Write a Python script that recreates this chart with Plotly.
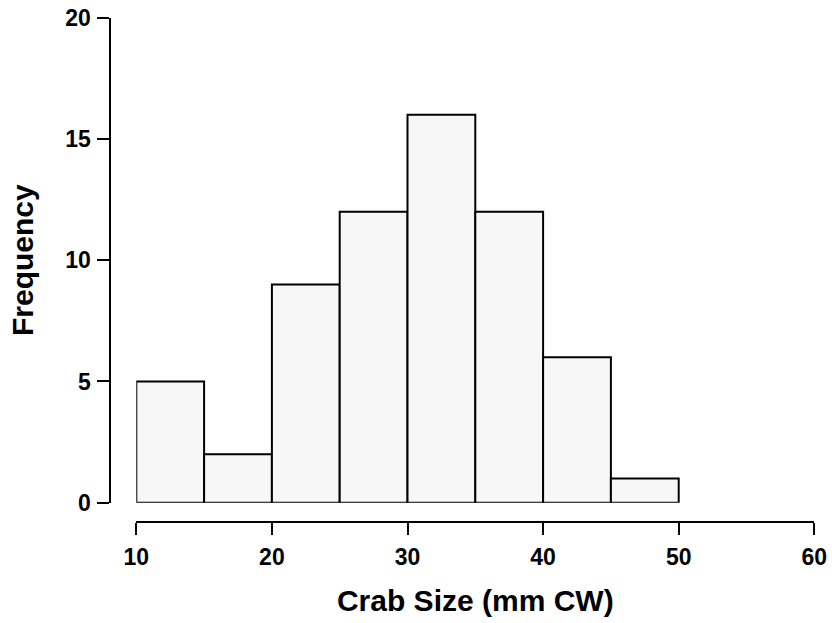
import plotly.graph_objects as go

bin_edges = [10, 15, 20, 25, 30, 35, 40, 45, 50]
counts = [5, 2, 9, 12, 16, 12, 6, 1]
x_ticks = [10, 20, 30, 40, 50, 60]
y_ticks = [0, 5, 10, 15, 20]

centers = [(a + b) / 2 for a, b in zip(bin_edges[:-1], bin_edges[1:])]
widths = [b - a for a, b in zip(bin_edges[:-1], bin_edges[1:])]

W, H = 832, 623
FONT = "Liberation Sans, Arial, sans-serif"


def px_x(p):
    return p / W


def px_y(p):
    return (H - p) / H


fig = go.Figure(go.Bar(
    x=centers, y=counts, width=widths,
    marker=dict(color="#F7F7F7", line=dict(color="black", width=2)),
    hoverinfo="x+y",
))

fig.update_layout(
    width=W, height=H,
    margin=dict(l=0, r=0, t=0, b=0, autoexpand=False),
    paper_bgcolor="white", plot_bgcolor="white",
    showlegend=False,
    font=dict(family=FONT, color="black"),
    xaxis=dict(
        domain=[px_x(136.3), px_x(814.3)], range=[10, 60],
        anchor="free", position=px_y(522), automargin=False,
        showline=True, linecolor="black", linewidth=2,
        ticks="outside", ticklen=12, tickwidth=2, tickcolor="black",
        tickvals=x_ticks, showgrid=False, zeroline=False,
        tickfont=dict(family=FONT, size=23, weight="bold"),
        ticklabelstandoff=2, ticklabeloverflow="allow",
        title=dict(text="<b>Crab Size (mm CW)</b>", font=dict(family=FONT, size=30), standoff=20),
    ),
    yaxis=dict(
        domain=[px_y(502.7), px_y(17.7)], range=[0, 20],
        anchor="free", position=px_x(109.5), automargin=False,
        showline=True, linecolor="black", linewidth=2,
        ticks="outside", ticklen=12, tickwidth=2, tickcolor="black",
        tickvals=y_ticks, showgrid=False, zeroline=False,
        tickfont=dict(family=FONT, size=23, weight="bold"),
        ticklabelstandoff=1, ticklabeloverflow="allow",
        title=dict(text="<b>Frequency</b>", font=dict(family=FONT, size=30), standoff=22),
    ),
)

fig.write_html(
    "out.html",
    config={"displayModeBar": False},
    post_script="document.body.style.margin='0';document.body.style.overflow='hidden';",
)
